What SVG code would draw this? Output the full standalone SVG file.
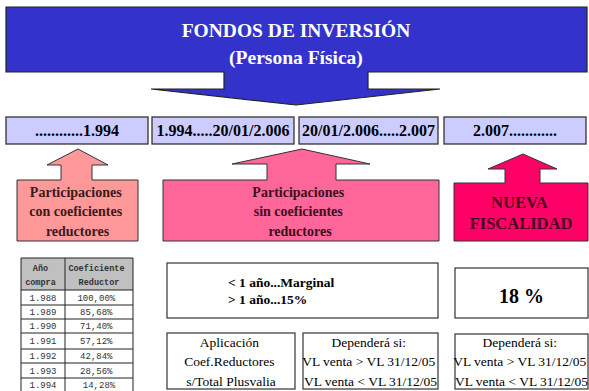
<svg xmlns="http://www.w3.org/2000/svg" width="589" height="391" viewBox="0 0 589 391">
<style>
  text { font-family: "Liberation Serif", serif; }
  .b { font-weight: bold; }
  .title { fill: #ffffff; font-size: 19.5px; }
  .date rect { fill: #ccccff; stroke: #333333; stroke-width: 1.3; }
  .date text { font-size: 16px; fill: #000; }
  .arrowshape { stroke: #333333; stroke-width: 1; }
  .lbl { font-size: 14px; }
  .box rect { fill: #ffffff; stroke: #333333; stroke-width: 1.2; }
  .bt { font-size: 13.5px; fill: #000; }
  text.tbl { font-family: "Liberation Mono", monospace; fill: #333333; }
  .th { font-size: 8.5px; font-weight: bold; }
  .td { font-size: 9px; }
  .grid { stroke: #222222; stroke-width: 1; fill: none; }
</style>

<g id="banner">
  <path d="M6,7 H587 V72 H368 V89 H440 L296,105 L151,89 H224 V72 H6 Z" fill="#3333cc" stroke="#222222" stroke-width="1.2"/>
  <text class="b title" x="296" y="37" text-anchor="middle">FONDOS DE INVERSIÓN</text>
  <text class="b title" x="296" y="64" text-anchor="middle">(Persona Física)</text>
</g>

<g id="date1" class="date">
  <rect x="6" y="117" width="142" height="27"/>
  <text class="b" x="77" y="136" text-anchor="middle">............1.994</text>
</g>
<g id="date2" class="date">
  <rect x="152" y="117" width="142" height="27"/>
  <text class="b" x="223" y="136" text-anchor="middle">1.994.....20/01/2.006</text>
</g>
<g id="date3" class="date">
  <rect x="299" y="117" width="139" height="27"/>
  <text class="b" x="368.5" y="136" text-anchor="middle">20/01/2.006.....2.007</text>
</g>
<g id="date4" class="date">
  <rect x="444" y="117" width="142" height="27"/>
  <text class="b" x="515" y="136" text-anchor="middle">2.007............</text>
</g>

<g id="arrow-con">
  <path class="arrowshape" d="M17,180 H61 V165 H47 L78,149 L108,165 H92 V180 H138 V241 H17 Z" fill="#ff9999"/>
  <text class="b lbl" fill="#3a1a1a" text-anchor="middle">
    <tspan x="77.5" y="197">Participaciones</tspan>
    <tspan x="77.5" y="216">con coeficientes</tspan>
    <tspan x="77.5" y="236">reductores</tspan>
  </text>
</g>

<g id="arrow-sin">
  <path class="arrowshape" d="M163,180 H267 V164 H232 L302,149 L370,164 H336 V180 H439 V241 H163 Z" fill="#ff6699"/>
  <text class="b lbl" fill="#3a1020" text-anchor="middle">
    <tspan x="300" y="197">Participaciones</tspan>
    <tspan x="300" y="216">sin coeficientes</tspan>
    <tspan x="300" y="236">reductores</tspan>
  </text>
</g>

<g id="arrow-nueva">
  <path class="arrowshape" d="M454,183 H505 V169 H488 L523,154 L557,169 H540 V183 H588 V241 H454 Z" fill="#ff0066"/>
  <text class="b" font-size="16.5" fill="#4a0020" text-anchor="middle">
    <tspan x="521" y="208">NUEVA</tspan>
    <tspan x="521" y="229">FISCALIDAD</tspan>
  </text>
</g>

<g id="table">
  <rect x="21" y="258" width="112" height="32" fill="#c0c0c0"/>
  <rect x="21" y="290" width="112" height="101" fill="#ffffff"/>
  <path class="grid" d="M21,258 H133 M21,258 V391 M133,258 V391 M65,258 V391 M21,290 H133 M21,305 H133 M21,319 H133 M21,363 H133 M21,378 H133"/>
  <path class="grid" stroke-width="1.8" d="M21,333 H133 M21,349 H133"/>
  <text class="tbl th" text-anchor="middle">
    <tspan x="43" y="271">Año</tspan>
    <tspan x="43" y="285">compra</tspan>
    <tspan x="99" y="271">Coeficiente</tspan>
    <tspan x="99" y="285">Reductor</tspan>
  </text>
  <text class="tbl td" text-anchor="middle">
    <tspan x="43" y="301">1.988</tspan><tspan x="99" y="301">100,00%</tspan>
    <tspan x="43" y="315">1.989</tspan><tspan x="99" y="315">85,68%</tspan>
    <tspan x="43" y="329">1.990</tspan><tspan x="99" y="329">71,40%</tspan>
    <tspan x="43" y="344">1.991</tspan><tspan x="99" y="344">57,12%</tspan>
    <tspan x="43" y="359">1.992</tspan><tspan x="99" y="359">42,84%</tspan>
    <tspan x="43" y="374">1.993</tspan><tspan x="99" y="374">28,56%</tspan>
    <tspan x="43" y="388">1.994</tspan><tspan x="99" y="388">14,28%</tspan>
  </text>
</g>

<g id="box-marginal" class="box">
  <rect x="167" y="263" width="271" height="55"/>
  <text class="b bt">
    <tspan x="228" y="287">&lt; 1 año...Marginal</tspan>
    <tspan x="228" y="304">&gt; 1 año...15%</tspan>
  </text>
</g>

<g id="box-18" class="box">
  <rect x="455" y="268" width="133" height="50"/>
  <text class="b" font-size="20" x="521.5" y="303" text-anchor="middle">18 %</text>
</g>

<g id="box-aplicacion" class="box">
  <rect x="167" y="333" width="128" height="56"/>
  <text class="bt" text-anchor="middle">
    <tspan x="231" y="347">Aplicación</tspan>
    <tspan x="231" y="366">Coef.Reductores</tspan>
    <tspan x="231" y="386">s/Total Plusvalia</tspan>
  </text>
</g>

<g id="box-depende1" class="box">
  <rect x="303" y="333" width="135" height="56"/>
  <text class="bt" text-anchor="middle">
    <tspan x="370.5" y="347">Dependerá si:</tspan>
    <tspan x="370.5" y="366">VL venta &gt; VL 31/12/05</tspan>
    <tspan x="370.5" y="386">VL venta &lt; VL 31/12/05</tspan>
  </text>
</g>

<g id="box-depende2" class="box">
  <rect x="455" y="334" width="133" height="55"/>
  <text class="bt" text-anchor="middle">
    <tspan x="521.5" y="347">Dependerá si:</tspan>
    <tspan x="521.5" y="366">VL venta &gt; VL 31/12/05</tspan>
    <tspan x="521.5" y="386">VL venta &lt; VL 31/12/05</tspan>
  </text>
</g>

<g id="connectors"></g>
</svg>
